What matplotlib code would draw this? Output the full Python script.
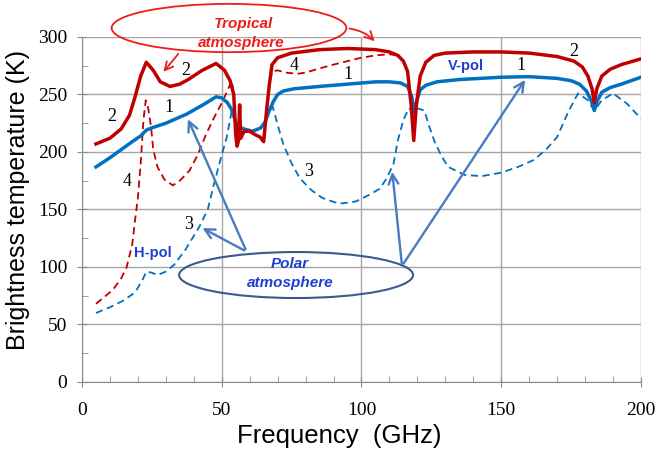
import matplotlib.pyplot as plt
from matplotlib.patches import Ellipse
from matplotlib.ticker import MultipleLocator

# curve 1: polar atmosphere, V-pol (blue solid)
f1 = [5, 10, 14, 18, 21, 23, 25, 30, 37.5, 44, 48, 50, 52, 53.5, 55, 56, 58, 61, 64, 65.5,
      67, 68.5, 70, 72, 76, 85, 95, 105, 110, 114, 116.5, 118, 118.8, 119.8, 121, 123, 127,
      135, 150, 160, 170, 175, 178, 180.5, 182.3, 183.3, 184.3, 186, 189, 193, 200]
t1 = [187, 195, 202, 209, 214, 219, 221, 225, 233, 242, 248, 247, 243, 237, 226, 222, 220, 218, 221, 226,
      236, 244, 250, 253, 255, 257, 259, 261, 261, 260, 257, 248, 234, 245, 254, 258, 261,
      263, 265, 265.5, 264, 262, 259, 253, 244, 236, 244, 252, 256, 259, 265]

# curve 2: tropical atmosphere, V-pol (red solid)
f2 = [5, 10, 14, 17, 19, 21, 23, 25.5, 28, 31.5, 35, 38, 43, 48, 51, 53, 54.3, 55, 55.5, 56,
      56.4, 56.8, 58, 60, 62, 63.7, 65, 66, 67, 68, 70, 75, 85, 95, 105, 110, 113, 115, 116.5,
      117.8, 118.7, 119.6, 121, 123, 126, 130, 140, 150, 160, 170, 176, 179, 181, 182.5, 183.3,
      184.2, 186, 189, 193, 200]
t2 = [207, 212, 220, 232, 248, 266, 278, 271, 261, 257, 259, 263, 271, 277, 271, 262, 250, 215, 205, 210,
      241, 212, 218, 218, 215, 213, 209, 235, 258, 276, 282, 286, 289, 290, 289, 287, 284, 279, 270,
      240, 210, 240, 266, 278, 284, 286, 287, 287, 286, 283, 279, 274, 266, 255, 243,
      255, 266, 272, 276, 281]

# curve 3: polar atmosphere, H-pol (blue dashed)
f3 = [5, 10, 15, 19, 21.5, 23, 25, 27, 30, 33, 37, 42, 45, 47, 49.5, 51.8, 53.6, 55, 56, 58,
      61, 64, 65.5, 67, 68.3, 70.2, 72, 75, 78, 82, 86, 92, 98, 103, 106.5, 109, 111.5, 113,
      115, 117, 118.8, 120, 122.5, 124, 126, 128.5, 131, 137, 143, 150, 156, 161.6, 166, 170,
      174, 177.5, 181, 183.3, 186, 190, 195, 200]
t3 = [60, 65, 71, 78, 88, 96, 95, 93, 96, 102, 115, 135, 150, 170, 193, 213, 236, 226, 222, 220,
      218, 221, 226, 236, 239, 222, 207, 190, 177, 167, 160, 155, 157, 163, 168, 177, 190, 210,
      228, 238, 234, 238, 236, 224, 210, 197, 187, 180, 179, 182, 187, 193, 202, 213,
      235, 251, 245, 236, 245, 251, 242, 229]

# curve 4: tropical atmosphere, H-pol (red dashed)
f4 = [5, 8, 11, 14, 16, 18, 19, 20, 21, 22, 22.8, 23.7, 24.7, 25.5, 27, 29.5, 32.5, 35, 38.5,
      41.5, 44.5, 47.5, 50.5, 53.6, 54.3, 55, 55.5, 56, 58, 60, 62, 63.7, 65, 66, 67, 68, 70,
      73, 77, 80, 84, 90, 95, 100, 105, 110, 113, 114.5]
t4 = [68, 74, 80, 90, 100, 120, 141, 160, 190, 228, 245, 238, 222, 202, 187, 176, 171, 175, 184,
      198, 216, 231, 245, 262, 250, 215, 205, 210, 218, 218, 215, 213, 209, 235, 258, 270, 271,
      269, 268, 269, 272, 276, 279, 282, 284, 285, 284, 281]

# curve number labels: (f, T, text)
num_labels = [(10.5, 231, '2'), (37, 271, '2'), (31, 239, '1'), (16, 174, '4'),
              (76, 275, '4'), (95, 267, '1'), (157, 275, '1'), (176, 287, '2'),
              (81, 183, '3'), (38, 137, '3')]

RED = '#c00000'
BLUE = '#0070c0'
ARROW = '#4a7bbf'

fig, ax = plt.subplots(figsize=(6.57, 4.51), dpi=100)
fig.subplots_adjust(left=0.1248, right=0.9756, top=0.918, bottom=0.153)

ax.plot(f4, t4, color=RED, lw=1.3, ls=(0, (4, 2.5)), zorder=3)
ax.plot(f3, t3, color=BLUE, lw=1.3, ls=(0, (4, 2.5)), zorder=3)
ax.plot(f1, t1, color=BLUE, lw=2.5, zorder=4)
ax.plot(f2, t2, color=RED, lw=2.5, zorder=5)

ax.set_xlim(0, 200)
ax.set_ylim(0, 300)
ax.xaxis.set_major_locator(MultipleLocator(50))
ax.xaxis.set_minor_locator(MultipleLocator(10))
ax.yaxis.set_major_locator(MultipleLocator(50))
ax.yaxis.set_minor_locator(MultipleLocator(25))
ax.grid(True, which='major', color='#a6a6a6', lw=1.0)
ax.set_axisbelow(True)
for s in ['top', 'right']:
    ax.spines[s].set_visible(False)
for s in ['left', 'bottom']:
    ax.spines[s].set_color('#8c8c8c')
ax.tick_params(which='major', direction='inout', length=7, color='#8c8c8c')
ax.tick_params(which='minor', direction='in', length=4, color='#8c8c8c')
ax.tick_params(axis='y', pad=7)
ax.tick_params(axis='x', pad=11)
for lab in ax.get_xticklabels() + ax.get_yticklabels():
    lab.set_fontfamily('Liberation Serif')
    lab.set_fontsize(14)

ax.set_xlabel('Frequency  (GHz)', fontfamily='Liberation Sans', fontsize=18.5, va='center')
ax.set_ylabel('Brightness temperature (K)', fontfamily='Liberation Sans', fontsize=18, va='center')
ax.xaxis.set_label_coords(0.46, -0.157)
ax.yaxis.set_label_coords(-0.114, 0.528)

for x, y, s in num_labels:
    ax.text(x, y, s, fontfamily='Liberation Serif', fontsize=13, ha='center', va='center')

ax.text(137.5, 275, 'V-pol', color='#1f3fd0', fontweight='bold', fontfamily='Liberation Sans',
        fontsize=10.5, ha='center', va='center')
ax.text(25.5, 112, 'H-pol', color='#1f3fd0', fontweight='bold', fontfamily='Liberation Sans',
        fontsize=10.5, ha='center', va='center')

# tropical atmosphere callout
ax.add_patch(Ellipse((52.6, 307.8), 84, 42, fill=False, ec='#ee1c1c', lw=1.3, clip_on=False))
ax.text(57.7, 311, 'Tropical', color='#ee1c1c', fontweight='bold', fontstyle='italic',
        fontfamily='Liberation Sans', fontsize=11, ha='center', va='center')
ax.text(57.1, 294.5, 'atmosphere', color='#ee1c1c', fontweight='bold', fontstyle='italic',
        fontfamily='Liberation Sans', fontsize=11, ha='center', va='center')
red_arrow = dict(arrowstyle='->,head_length=0.6,head_width=0.3', color='#ee1c1c', lw=1.3)
ax.annotate('', xy=(28.5, 267.8), xytext=(35.1, 287.2), arrowprops=red_arrow,
            annotation_clip=False)
ax.annotate('', xy=(105.4, 294.5), xytext=(94.7, 307.6),
            arrowprops=dict(red_arrow, connectionstyle='arc3,rad=-0.2'), annotation_clip=False)

# polar atmosphere callout
ax.add_patch(Ellipse((76.6, 93), 83.7, 40, fill=False, ec='#3b5b8c', lw=1.5, zorder=6))
ax.text(74.4, 103, 'Polar', color='#1f3fd0', fontweight='bold', fontstyle='italic',
        fontfamily='Liberation Sans', fontsize=11, ha='center', va='center', zorder=7)
ax.text(74.4, 86, 'atmosphere', color='#1f3fd0', fontweight='bold', fontstyle='italic',
        fontfamily='Liberation Sans', fontsize=11, ha='center', va='center', zorder=7)
blue_arrow = dict(arrowstyle='->,head_length=0.7,head_width=0.35', color=ARROW, lw=1.7)
for tail, head in [((58.9, 113.3), (37.5, 230.7)), ((58.9, 113.3), (42.2, 135)),
                   ((114.5, 100.9), (110.9, 185.2)), ((114.5, 100.9), (159.1, 264.8))]:
    ax.annotate('', xy=head, xytext=tail, arrowprops=blue_arrow, zorder=8)

fig.savefig('out.png', dpi=100)
